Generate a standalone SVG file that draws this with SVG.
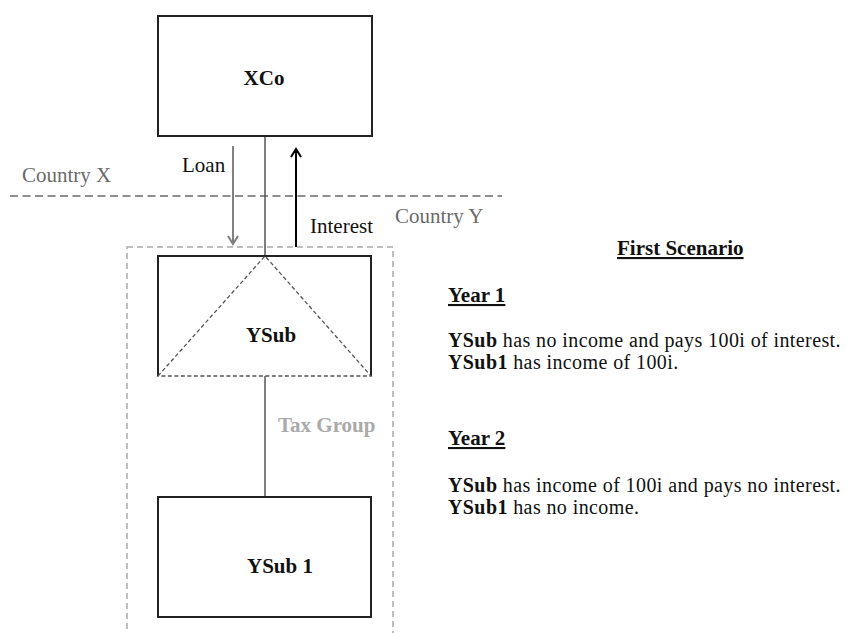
<svg xmlns="http://www.w3.org/2000/svg" width="847" height="633" viewBox="0 0 847 633">
  <defs>
    <style>
      text { font-family: "Liberation Serif", "Times New Roman", serif; font-size: 21px; }
      .box { fill: #fff; stroke: #222; stroke-width: 2; }
      .lbl { font-weight: bold; fill: #111; }
      .country { fill: #6a6a6a; }
      .plain { fill: #111; }
      .note { fill: #111; font-size: 20px; letter-spacing: 0.4px; }
      .head { font-weight: bold; fill: #111; text-decoration: underline; }
      .tri { fill: none; stroke: #555; stroke-width: 1.3; stroke-dasharray: 4 2.5; }
      .border { fill: none; stroke: #6a6a6a; stroke-width: 1.5; stroke-dasharray: 8 4.5; }
      .group { fill: none; stroke: #aaa; stroke-width: 1.5; stroke-dasharray: 6 4; }
      .link { stroke: #555; stroke-width: 1.5; fill: none; }
    </style>
    <marker id="headGray" viewBox="0 0 12 12" refX="10" refY="6" markerWidth="12" markerHeight="12" markerUnits="userSpaceOnUse" orient="auto">
      <path d="M2,1 L10,6 L2,11" fill="none" stroke="#808080" stroke-width="2"/>
    </marker>
    <marker id="headBlack" viewBox="0 0 12 12" refX="10" refY="6" markerWidth="12" markerHeight="12" markerUnits="userSpaceOnUse" orient="auto">
      <path d="M2,1 L10,6 L2,11" fill="none" stroke="#000" stroke-width="2"/>
    </marker>
  </defs>

  <rect width="847" height="633" fill="#fff"/>

  <!-- country border and tax group outline -->
  <line class="border" x1="10" y1="196" x2="502" y2="196"/>
  <rect class="group" x="127" y="247" width="266" height="400"/>
  <text class="country" x="22" y="182">Country X</text>
  <text class="country" x="395" y="223">Country Y</text>
  <text x="278" y="432" style="font-weight:bold;fill:#aaa">Tax Group</text>

  <!-- connectors -->
  <g id="connectors">
    <line class="link" x1="265" y1="136" x2="265" y2="256"/>
    <line class="link" x1="265" y1="376" x2="265" y2="497"/>
    <line x1="233" y1="146" x2="233" y2="244" stroke="#808080" stroke-width="2" marker-end="url(#headGray)"/>
    <line x1="296" y1="247" x2="296" y2="149" stroke="#000" stroke-width="2" marker-end="url(#headBlack)"/>
    <text class="plain" x="182" y="172">Loan</text>
    <text class="plain" x="310" y="233">Interest</text>
  </g>

  <g id="xco">
    <rect class="box" x="158" y="16" width="214" height="120"/>
    <text class="lbl" x="264" y="85" text-anchor="middle">XCo</text>
  </g>

  <g id="ysub">
    <rect x="158" y="256" width="213" height="120" fill="#fff"/>
    <path d="M158,376 L158,256 L371,256 L371,376" fill="none" stroke="#222" stroke-width="2"/>
    <path class="tri" d="M158,376 L265,256 L371,376 Z"/>
    <text class="lbl" x="271" y="342" text-anchor="middle">YSub</text>
  </g>

  <g id="ysub1">
    <rect class="box" x="158" y="497" width="213" height="120"/>
    <text class="lbl" x="280" y="573" text-anchor="middle">YSub 1</text>
  </g>

  <!-- scenario notes -->
  <g id="notes">
    <text class="head" x="617" y="255">First Scenario</text>
    <text class="head" x="448" y="302">Year 1</text>
    <text class="note" x="448" y="347"><tspan font-weight="bold">YSub</tspan> has no income and pays 100i of interest.</text>
    <text class="note" x="448" y="369"><tspan font-weight="bold">YSub1</tspan> has income of 100i.</text>
    <text class="head" x="448" y="445">Year 2</text>
    <text class="note" x="448" y="492"><tspan font-weight="bold">YSub</tspan> has income of 100i and pays no interest.</text>
    <text class="note" x="448" y="514"><tspan font-weight="bold">YSub1</tspan> has no income.</text>
  </g>
</svg>
